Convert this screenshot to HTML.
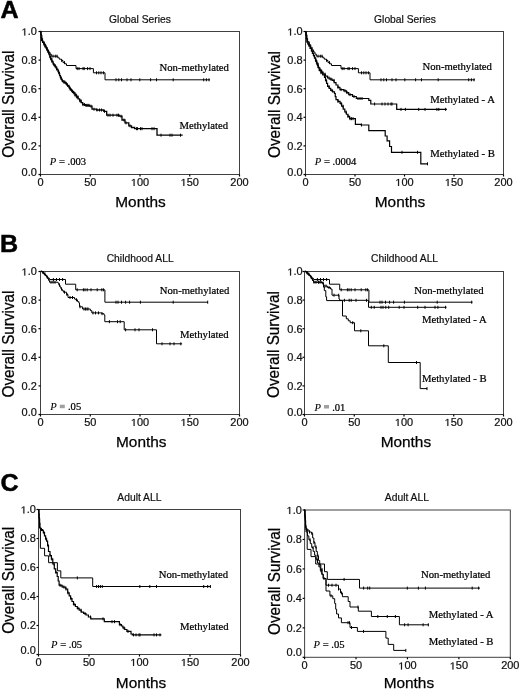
<!DOCTYPE html>
<html><head><meta charset="utf-8"><style>
html,body{margin:0;padding:0;background:#fff;}
svg{display:block;will-change:transform;}
</style></head><body>
<svg width="520" height="690" viewBox="0 0 520 690">
<rect width="520" height="690" fill="#fff"/>
<rect x="40.5" y="31.5" width="199.0" height="143.0" fill="none" stroke="#404040" stroke-width="1"/><line x1="38.5" y1="174.50" x2="40.5" y2="174.50" stroke="#000" stroke-width="1.2"/><g transform="translate(36.80,175.90) scale(1.1,1)" fill="#111" stroke="#111" stroke-width="0.2"><text x="-13.901" y="0" font-family='"Liberation Sans", sans-serif' font-size="10">0</text><text x="-8.340" y="0" font-family='"Liberation Sans", sans-serif' font-size="10">.</text><text x="-5.562" y="0" font-family='"Liberation Sans", sans-serif' font-size="10">0</text></g><line x1="38.5" y1="145.90" x2="40.5" y2="145.90" stroke="#000" stroke-width="1.2"/><g transform="translate(36.80,149.80) scale(1.1,1)" fill="#111" stroke="#111" stroke-width="0.2"><text x="-13.901" y="0" font-family='"Liberation Sans", sans-serif' font-size="10">0</text><text x="-8.340" y="0" font-family='"Liberation Sans", sans-serif' font-size="10">.</text><text x="-5.562" y="0" font-family='"Liberation Sans", sans-serif' font-size="10">2</text></g><line x1="38.5" y1="117.30" x2="40.5" y2="117.30" stroke="#000" stroke-width="1.2"/><g transform="translate(36.80,121.20) scale(1.1,1)" fill="#111" stroke="#111" stroke-width="0.2"><text x="-13.901" y="0" font-family='"Liberation Sans", sans-serif' font-size="10">0</text><text x="-8.340" y="0" font-family='"Liberation Sans", sans-serif' font-size="10">.</text><text x="-5.562" y="0" font-family='"Liberation Sans", sans-serif' font-size="10">4</text></g><line x1="38.5" y1="88.70" x2="40.5" y2="88.70" stroke="#000" stroke-width="1.2"/><g transform="translate(36.80,92.60) scale(1.1,1)" fill="#111" stroke="#111" stroke-width="0.2"><text x="-13.901" y="0" font-family='"Liberation Sans", sans-serif' font-size="10">0</text><text x="-8.340" y="0" font-family='"Liberation Sans", sans-serif' font-size="10">.</text><text x="-5.562" y="0" font-family='"Liberation Sans", sans-serif' font-size="10">6</text></g><line x1="38.5" y1="60.10" x2="40.5" y2="60.10" stroke="#000" stroke-width="1.2"/><g transform="translate(36.80,64.00) scale(1.1,1)" fill="#111" stroke="#111" stroke-width="0.2"><text x="-13.901" y="0" font-family='"Liberation Sans", sans-serif' font-size="10">0</text><text x="-8.340" y="0" font-family='"Liberation Sans", sans-serif' font-size="10">.</text><text x="-5.562" y="0" font-family='"Liberation Sans", sans-serif' font-size="10">8</text></g><line x1="38.5" y1="31.50" x2="40.5" y2="31.50" stroke="#000" stroke-width="1.2"/><g transform="translate(36.80,35.40) scale(1.1,1)" fill="#111" stroke="#111" stroke-width="0.2"><path transform="translate(-13.901,0) scale(0.004883,-0.004883)" stroke-width="40.96" d="M515,0L515,1237L197,1010L197,1180L530,1409L696,1409L696,0Z"/><text x="-8.340" y="0" font-family='"Liberation Sans", sans-serif' font-size="10">.</text><text x="-5.562" y="0" font-family='"Liberation Sans", sans-serif' font-size="10">0</text></g><line x1="40.50" y1="174.5" x2="40.50" y2="176.5" stroke="#000" stroke-width="1.2"/><g transform="translate(40.50,185.90) scale(1.1,1)" fill="#111" stroke="#111" stroke-width="0.2"><text x="-2.781" y="0" font-family='"Liberation Sans", sans-serif' font-size="10">0</text></g><line x1="90.25" y1="174.5" x2="90.25" y2="176.5" stroke="#000" stroke-width="1.2"/><g transform="translate(90.25,185.90) scale(1.1,1)" fill="#111" stroke="#111" stroke-width="0.2"><text x="-5.562" y="0" font-family='"Liberation Sans", sans-serif' font-size="10">5</text><text x="0.000" y="0" font-family='"Liberation Sans", sans-serif' font-size="10">0</text></g><line x1="140.00" y1="174.5" x2="140.00" y2="176.5" stroke="#000" stroke-width="1.2"/><g transform="translate(140.00,185.90) scale(1.1,1)" fill="#111" stroke="#111" stroke-width="0.2"><path transform="translate(-8.342,0) scale(0.004883,-0.004883)" stroke-width="40.96" d="M515,0L515,1237L197,1010L197,1180L530,1409L696,1409L696,0Z"/><text x="-2.781" y="0" font-family='"Liberation Sans", sans-serif' font-size="10">0</text><text x="2.781" y="0" font-family='"Liberation Sans", sans-serif' font-size="10">0</text></g><line x1="189.75" y1="174.5" x2="189.75" y2="176.5" stroke="#000" stroke-width="1.2"/><g transform="translate(189.75,185.90) scale(1.1,1)" fill="#111" stroke="#111" stroke-width="0.2"><path transform="translate(-8.342,0) scale(0.004883,-0.004883)" stroke-width="40.96" d="M515,0L515,1237L197,1010L197,1180L530,1409L696,1409L696,0Z"/><text x="-2.781" y="0" font-family='"Liberation Sans", sans-serif' font-size="10">5</text><text x="2.781" y="0" font-family='"Liberation Sans", sans-serif' font-size="10">0</text></g><line x1="239.50" y1="174.5" x2="239.50" y2="176.5" stroke="#000" stroke-width="1.2"/><g transform="translate(239.50,185.90) scale(1.1,1)" fill="#111" stroke="#111" stroke-width="0.2"><text x="-8.342" y="0" font-family='"Liberation Sans", sans-serif' font-size="10">2</text><text x="-2.781" y="0" font-family='"Liberation Sans", sans-serif' font-size="10">0</text><text x="2.781" y="0" font-family='"Liberation Sans", sans-serif' font-size="10">0</text></g><text x="140" y="23.1" font-family='"Liberation Sans", sans-serif' font-size="10.3" text-anchor="middle" fill="#111" stroke="#111" stroke-width="0.2">Global Series</text><text x="140.5" y="206.9" font-family='"Liberation Sans", sans-serif' font-size="15.4" text-anchor="middle" fill="#000" stroke="#000" stroke-width="0.25">Months</text><text transform="translate(8.3,104.2) rotate(-90) scale(1,1.06)" x="0" y="5.6" font-family='"Liberation Sans", sans-serif' font-size="15.3" text-anchor="middle" fill="#000" stroke="#000" stroke-width="0.25">Overall Survival</text><path d="M40.50,31.50H41.20V34.93H41.90V38.37H42.60V41.80H44.30V44.70H45.75V47.30H47.20V49.90H48.57V52.00H49.93V54.10H51.30V56.20H57.80V57.80H59.30V59.20H61.50V60.50H63.00V62.60H64.80V63.80H66.50V65.50H76.00V68.60H93.40V72.80H105.00V79.80H210.00" fill="none" stroke="#000" stroke-width="1.0"/><path d="M53.00,54.70V57.70M55.30,54.70V57.70M57.00,54.70V57.70M61.70,59.00V62.00M64.50,61.10V64.10M77.20,67.10V70.10M79.00,67.10V70.10M83.00,67.10V70.10M84.20,67.10V70.10M87.60,67.10V70.10M90.00,67.10V70.10M96.50,71.30V74.30M98.80,71.30V74.30M101.00,71.30V74.30M103.40,71.30V74.30M116.00,78.30V81.30M118.80,78.30V81.30M121.50,78.30V81.30M127.00,78.30V81.30M131.00,78.30V81.30M139.80,78.30V81.30M150.60,78.30V81.30M156.50,78.30V81.30M173.20,78.30V81.30M203.70,78.30V81.30M206.40,78.30V81.30M209.00,78.30V81.30" fill="none" stroke="#000" stroke-width="1"/><path d="M40.50,31.50H40.83V34.57H41.17V37.63H41.50V40.70H42.65V42.45H43.80V44.20H44.90V46.20H46.00V48.20H47.00V50.30H48.00V52.40H49.00V54.50H49.85V56.75H50.70V59.00H51.85V61.40H53.00V63.80H54.15V65.50H55.30V67.20H56.65V69.35H58.00V71.50H58.80V73.57H59.60V75.63H60.40V77.70H61.20V79.25H62.00V80.80H63.90V82.30H65.80V83.80H67.30V85.35H68.80V86.90H69.60V88.45H70.40V90.00H71.95V91.50H73.50V93.00H75.00V95.00H76.50V97.00H78.05V98.90H79.60V100.80H81.15V102.70H82.70V104.60H85.80V105.40H89.60V106.20H92.00V109.20H96.50V110.00H103.80V111.30H106.70V115.20H119.20V116.20H122.00V120.00H125.00V122.90H128.80V125.80H131.50V127.50H134.60V128.70H157.00V135.20H182.70" fill="none" stroke="#000" stroke-width="1.3"/><path d="M42.50,39.20V42.20M44.00,42.70V45.70M45.00,44.70V47.70M46.50,46.70V49.70M47.50,48.80V51.80M48.50,50.90V53.90M50.00,55.25V58.25M51.00,57.50V60.50M52.00,59.90V62.90M53.50,62.30V65.30M55.00,64.00V67.00M56.00,65.70V68.70M57.00,67.85V70.85M58.50,70.00V73.00M59.50,72.07V75.07M61.00,76.20V79.20M62.50,79.30V82.30M64.00,80.80V83.80M65.00,80.80V83.80M66.50,82.30V85.30M67.50,83.85V86.85M69.00,85.40V88.40M70.00,86.95V89.95M71.50,88.50V91.50M72.50,90.00V93.00M74.00,91.50V94.50M75.00,93.50V96.50M76.00,93.50V96.50M77.00,95.50V98.50M78.00,95.50V98.50M80.00,99.30V102.30M81.00,99.30V102.30M83.00,103.10V106.10M84.50,103.10V106.10M86.00,103.90V106.90M87.00,103.90V106.90M88.00,103.90V106.90M89.00,103.90V106.90M91.00,104.70V107.70M94.00,107.70V110.70M97.00,108.50V111.50M99.50,108.50V111.50M101.50,108.50V111.50M104.50,109.80V112.80M108.00,113.70V116.70M110.00,113.70V116.70M113.00,113.70V116.70M117.00,113.70V116.70M118.50,113.70V116.70M121.00,114.70V117.70M124.00,118.50V121.50M126.00,121.40V124.40M130.00,124.30V127.30M136.50,127.20V130.20M137.50,127.20V130.20M140.50,127.20V130.20M142.00,127.20V130.20M152.00,127.20V130.20M154.00,127.20V130.20M161.00,133.70V136.70M170.00,133.70V136.70M172.00,133.70V136.70M180.50,133.70V136.70" fill="none" stroke="#000" stroke-width="1"/><text x="159.5" y="70.6" font-family='"Liberation Serif", serif' font-size="10.7" fill="#000" stroke="#000" stroke-width="0.22">Non-methylated</text><text x="179.4" y="128.9" font-family='"Liberation Serif", serif' font-size="10.7" fill="#000" stroke="#000" stroke-width="0.22">Methylated</text><text x="49.8" y="165" font-family='"Liberation Serif", serif' font-size="10.6" fill="#000" stroke="#000" stroke-width="0.22"><tspan font-style="italic" stroke-width="0.08">P</tspan> = .003</text><text transform="translate(0.4,18.3) scale(1.02,1)" font-family='"Liberation Sans", sans-serif' font-size="24.6" font-weight="bold" fill="#000" stroke="#000" stroke-width="0.5">A</text><rect x="305.5" y="31.5" width="198.0" height="143.0" fill="none" stroke="#404040" stroke-width="1"/><line x1="303.5" y1="174.50" x2="305.5" y2="174.50" stroke="#000" stroke-width="1.2"/><g transform="translate(302.60,175.90) scale(1.1,1)" fill="#111" stroke="#111" stroke-width="0.2"><text x="-13.901" y="0" font-family='"Liberation Sans", sans-serif' font-size="10">0</text><text x="-8.340" y="0" font-family='"Liberation Sans", sans-serif' font-size="10">.</text><text x="-5.562" y="0" font-family='"Liberation Sans", sans-serif' font-size="10">0</text></g><line x1="303.5" y1="145.90" x2="305.5" y2="145.90" stroke="#000" stroke-width="1.2"/><g transform="translate(302.60,149.80) scale(1.1,1)" fill="#111" stroke="#111" stroke-width="0.2"><text x="-13.901" y="0" font-family='"Liberation Sans", sans-serif' font-size="10">0</text><text x="-8.340" y="0" font-family='"Liberation Sans", sans-serif' font-size="10">.</text><text x="-5.562" y="0" font-family='"Liberation Sans", sans-serif' font-size="10">2</text></g><line x1="303.5" y1="117.30" x2="305.5" y2="117.30" stroke="#000" stroke-width="1.2"/><g transform="translate(302.60,121.20) scale(1.1,1)" fill="#111" stroke="#111" stroke-width="0.2"><text x="-13.901" y="0" font-family='"Liberation Sans", sans-serif' font-size="10">0</text><text x="-8.340" y="0" font-family='"Liberation Sans", sans-serif' font-size="10">.</text><text x="-5.562" y="0" font-family='"Liberation Sans", sans-serif' font-size="10">4</text></g><line x1="303.5" y1="88.70" x2="305.5" y2="88.70" stroke="#000" stroke-width="1.2"/><g transform="translate(302.60,92.60) scale(1.1,1)" fill="#111" stroke="#111" stroke-width="0.2"><text x="-13.901" y="0" font-family='"Liberation Sans", sans-serif' font-size="10">0</text><text x="-8.340" y="0" font-family='"Liberation Sans", sans-serif' font-size="10">.</text><text x="-5.562" y="0" font-family='"Liberation Sans", sans-serif' font-size="10">6</text></g><line x1="303.5" y1="60.10" x2="305.5" y2="60.10" stroke="#000" stroke-width="1.2"/><g transform="translate(302.60,64.00) scale(1.1,1)" fill="#111" stroke="#111" stroke-width="0.2"><text x="-13.901" y="0" font-family='"Liberation Sans", sans-serif' font-size="10">0</text><text x="-8.340" y="0" font-family='"Liberation Sans", sans-serif' font-size="10">.</text><text x="-5.562" y="0" font-family='"Liberation Sans", sans-serif' font-size="10">8</text></g><line x1="303.5" y1="31.50" x2="305.5" y2="31.50" stroke="#000" stroke-width="1.2"/><g transform="translate(302.60,35.40) scale(1.1,1)" fill="#111" stroke="#111" stroke-width="0.2"><path transform="translate(-13.901,0) scale(0.004883,-0.004883)" stroke-width="40.96" d="M515,0L515,1237L197,1010L197,1180L530,1409L696,1409L696,0Z"/><text x="-8.340" y="0" font-family='"Liberation Sans", sans-serif' font-size="10">.</text><text x="-5.562" y="0" font-family='"Liberation Sans", sans-serif' font-size="10">0</text></g><line x1="305.50" y1="174.5" x2="305.50" y2="176.5" stroke="#000" stroke-width="1.2"/><g transform="translate(305.50,185.90) scale(1.1,1)" fill="#111" stroke="#111" stroke-width="0.2"><text x="-2.781" y="0" font-family='"Liberation Sans", sans-serif' font-size="10">0</text></g><line x1="355.00" y1="174.5" x2="355.00" y2="176.5" stroke="#000" stroke-width="1.2"/><g transform="translate(355.00,185.90) scale(1.1,1)" fill="#111" stroke="#111" stroke-width="0.2"><text x="-5.562" y="0" font-family='"Liberation Sans", sans-serif' font-size="10">5</text><text x="0.000" y="0" font-family='"Liberation Sans", sans-serif' font-size="10">0</text></g><line x1="404.50" y1="174.5" x2="404.50" y2="176.5" stroke="#000" stroke-width="1.2"/><g transform="translate(404.50,185.90) scale(1.1,1)" fill="#111" stroke="#111" stroke-width="0.2"><path transform="translate(-8.342,0) scale(0.004883,-0.004883)" stroke-width="40.96" d="M515,0L515,1237L197,1010L197,1180L530,1409L696,1409L696,0Z"/><text x="-2.781" y="0" font-family='"Liberation Sans", sans-serif' font-size="10">0</text><text x="2.781" y="0" font-family='"Liberation Sans", sans-serif' font-size="10">0</text></g><line x1="454.00" y1="174.5" x2="454.00" y2="176.5" stroke="#000" stroke-width="1.2"/><g transform="translate(454.00,185.90) scale(1.1,1)" fill="#111" stroke="#111" stroke-width="0.2"><path transform="translate(-8.342,0) scale(0.004883,-0.004883)" stroke-width="40.96" d="M515,0L515,1237L197,1010L197,1180L530,1409L696,1409L696,0Z"/><text x="-2.781" y="0" font-family='"Liberation Sans", sans-serif' font-size="10">5</text><text x="2.781" y="0" font-family='"Liberation Sans", sans-serif' font-size="10">0</text></g><line x1="503.50" y1="174.5" x2="503.50" y2="176.5" stroke="#000" stroke-width="1.2"/><g transform="translate(503.50,185.90) scale(1.1,1)" fill="#111" stroke="#111" stroke-width="0.2"><text x="-8.342" y="0" font-family='"Liberation Sans", sans-serif' font-size="10">2</text><text x="-2.781" y="0" font-family='"Liberation Sans", sans-serif' font-size="10">0</text><text x="2.781" y="0" font-family='"Liberation Sans", sans-serif' font-size="10">0</text></g><text x="405" y="23.1" font-family='"Liberation Sans", sans-serif' font-size="10.3" text-anchor="middle" fill="#111" stroke="#111" stroke-width="0.2">Global Series</text><text x="400" y="207" font-family='"Liberation Sans", sans-serif' font-size="15.4" text-anchor="middle" fill="#000" stroke="#000" stroke-width="0.25">Months</text><text transform="translate(274.3,104.5) rotate(-90) scale(1,1.06)" x="0" y="5.6" font-family='"Liberation Sans", sans-serif' font-size="15.3" text-anchor="middle" fill="#000" stroke="#000" stroke-width="0.25">Overall Survival</text><path d="M305.50,31.50H306.20V34.93H306.90V38.37H307.60V41.80H309.30V44.70H310.75V47.30H312.20V49.90H313.57V52.00H314.93V54.10H316.30V56.20H322.80V57.80H324.30V59.20H326.50V60.50H328.00V62.60H329.80V63.80H331.50V65.50H341.00V68.60H358.40V72.80H370.00V79.80H475.00" fill="none" stroke="#000" stroke-width="1.0"/><path d="M318.00,54.70V57.70M320.30,54.70V57.70M322.00,54.70V57.70M326.70,59.00V62.00M329.50,61.10V64.10M342.20,67.10V70.10M344.00,67.10V70.10M348.00,67.10V70.10M349.20,67.10V70.10M352.60,67.10V70.10M355.00,67.10V70.10M361.50,71.30V74.30M363.80,71.30V74.30M366.00,71.30V74.30M368.40,71.30V74.30M381.00,78.30V81.30M383.80,78.30V81.30M386.50,78.30V81.30M392.00,78.30V81.30M396.00,78.30V81.30M404.80,78.30V81.30M415.60,78.30V81.30M421.50,78.30V81.30M438.20,78.30V81.30M468.70,78.30V81.30M471.40,78.30V81.30M474.00,78.30V81.30" fill="none" stroke="#000" stroke-width="1"/><path d="M305.50,31.80H306.00V35.20H306.50V38.60H307.00V42.00H308.00V44.00H309.00V46.00H310.25V48.50H311.50V51.00H312.50V53.33H313.50V55.67H314.50V58.00H315.48V60.50H316.45V63.00H317.42V65.50H318.40V68.00H319.93V70.07H321.47V72.13H323.00V74.20H325.30V76.10H327.60V78.00H329.90V79.20H332.20V80.40H334.10V82.70H336.00V85.00H337.95V87.30H339.90V89.60H343.80V90.80H346.50V92.60H348.70V94.60H352.50V96.50H356.30V98.50H368.80V100.40H370.80V104.00H396.70V109.40H446.90" fill="none" stroke="#000" stroke-width="1.2"/><path d="M316.00,59.00V62.00M320.00,68.57V71.57M322.00,70.63V73.63M325.00,72.70V75.70M329.00,76.50V79.50M331.00,77.70V80.70M334.00,78.90V81.90M338.00,85.80V88.80M341.00,88.10V91.10M345.00,89.30V92.30M347.00,91.10V94.10M350.00,93.10V96.10M354.00,95.00V98.00M358.00,97.00V100.00M360.00,97.00V100.00M362.00,97.00V100.00M374.60,102.50V105.50M382.00,102.50V105.50M385.00,102.50V105.50M388.00,102.50V105.50M391.00,102.50V105.50M392.00,102.50V105.50M401.00,107.90V110.90M405.40,107.90V110.90M418.70,107.90V110.90M425.00,107.90V110.90M436.90,107.90V110.90M438.80,107.90V110.90M445.60,107.90V110.90" fill="none" stroke="#000" stroke-width="1"/><path d="M305.50,31.80H306.00V35.20H306.50V38.60H307.00V42.00H308.00V44.00H309.00V46.00H310.25V48.50H311.50V51.00H312.50V53.33H313.50V55.67H314.50V58.00H315.68V61.10H316.85V64.20H318.02V67.30H319.20V70.40H320.97V72.70H322.73V75.00H324.50V77.30H325.53V80.37H326.57V83.43H327.60V86.50H329.15V88.45H330.70V90.40H332.60V91.95H334.50V93.50H335.25V96.55H336.00V99.60H338.00V101.45H340.00V103.30H341.60V106.20H343.20V109.10H344.80V112.00H346.40V114.23H348.00V116.47H349.60V118.70H355.40V124.40H361.20V125.00H368.80V130.60H385.20V136.00H387.10V140.80H389.60V146.50H391.50V152.30H420.80V163.80H427.50" fill="none" stroke="#000" stroke-width="1.2"/><path d="M318.00,62.70V65.70M321.00,71.20V74.20M326.00,78.87V81.87M329.00,85.00V88.00M332.00,88.90V91.90M338.00,99.95V102.95M341.00,101.80V104.80M343.00,104.70V107.70M346.00,110.50V113.50M348.00,114.97V117.97M350.00,117.20V120.20M351.50,117.20V120.20M353.00,117.20V120.20M361.50,123.50V126.50M402.00,150.80V153.80M417.50,150.80V153.80M427.50,162.30V165.30" fill="none" stroke="#000" stroke-width="1"/><text x="422.5" y="70" font-family='"Liberation Serif", serif' font-size="10.7" fill="#000" stroke="#000" stroke-width="0.22">Non-methylated</text><text x="430.2" y="103.1" font-family='"Liberation Serif", serif' font-size="10.7" fill="#000" stroke="#000" stroke-width="0.22">Methylated - A</text><text x="430.2" y="157" font-family='"Liberation Serif", serif' font-size="10.7" fill="#000" stroke="#000" stroke-width="0.22">Methylated - B</text><text x="314.8" y="164.8" font-family='"Liberation Serif", serif' font-size="10.6" fill="#000" stroke="#000" stroke-width="0.22"><tspan font-style="italic" stroke-width="0.08">P</tspan> = .0004</text><rect x="40.5" y="271.5" width="199.0" height="143.0" fill="none" stroke="#404040" stroke-width="1"/><line x1="38.5" y1="414.50" x2="40.5" y2="414.50" stroke="#000" stroke-width="1.2"/><g transform="translate(36.80,415.90) scale(1.1,1)" fill="#111" stroke="#111" stroke-width="0.2"><text x="-13.901" y="0" font-family='"Liberation Sans", sans-serif' font-size="10">0</text><text x="-8.340" y="0" font-family='"Liberation Sans", sans-serif' font-size="10">.</text><text x="-5.562" y="0" font-family='"Liberation Sans", sans-serif' font-size="10">0</text></g><line x1="38.5" y1="385.90" x2="40.5" y2="385.90" stroke="#000" stroke-width="1.2"/><g transform="translate(36.80,389.80) scale(1.1,1)" fill="#111" stroke="#111" stroke-width="0.2"><text x="-13.901" y="0" font-family='"Liberation Sans", sans-serif' font-size="10">0</text><text x="-8.340" y="0" font-family='"Liberation Sans", sans-serif' font-size="10">.</text><text x="-5.562" y="0" font-family='"Liberation Sans", sans-serif' font-size="10">2</text></g><line x1="38.5" y1="357.30" x2="40.5" y2="357.30" stroke="#000" stroke-width="1.2"/><g transform="translate(36.80,361.20) scale(1.1,1)" fill="#111" stroke="#111" stroke-width="0.2"><text x="-13.901" y="0" font-family='"Liberation Sans", sans-serif' font-size="10">0</text><text x="-8.340" y="0" font-family='"Liberation Sans", sans-serif' font-size="10">.</text><text x="-5.562" y="0" font-family='"Liberation Sans", sans-serif' font-size="10">4</text></g><line x1="38.5" y1="328.70" x2="40.5" y2="328.70" stroke="#000" stroke-width="1.2"/><g transform="translate(36.80,332.60) scale(1.1,1)" fill="#111" stroke="#111" stroke-width="0.2"><text x="-13.901" y="0" font-family='"Liberation Sans", sans-serif' font-size="10">0</text><text x="-8.340" y="0" font-family='"Liberation Sans", sans-serif' font-size="10">.</text><text x="-5.562" y="0" font-family='"Liberation Sans", sans-serif' font-size="10">6</text></g><line x1="38.5" y1="300.10" x2="40.5" y2="300.10" stroke="#000" stroke-width="1.2"/><g transform="translate(36.80,304.00) scale(1.1,1)" fill="#111" stroke="#111" stroke-width="0.2"><text x="-13.901" y="0" font-family='"Liberation Sans", sans-serif' font-size="10">0</text><text x="-8.340" y="0" font-family='"Liberation Sans", sans-serif' font-size="10">.</text><text x="-5.562" y="0" font-family='"Liberation Sans", sans-serif' font-size="10">8</text></g><line x1="38.5" y1="271.50" x2="40.5" y2="271.50" stroke="#000" stroke-width="1.2"/><g transform="translate(36.80,275.40) scale(1.1,1)" fill="#111" stroke="#111" stroke-width="0.2"><path transform="translate(-13.901,0) scale(0.004883,-0.004883)" stroke-width="40.96" d="M515,0L515,1237L197,1010L197,1180L530,1409L696,1409L696,0Z"/><text x="-8.340" y="0" font-family='"Liberation Sans", sans-serif' font-size="10">.</text><text x="-5.562" y="0" font-family='"Liberation Sans", sans-serif' font-size="10">0</text></g><line x1="40.50" y1="414.5" x2="40.50" y2="416.5" stroke="#000" stroke-width="1.2"/><g transform="translate(40.50,425.90) scale(1.1,1)" fill="#111" stroke="#111" stroke-width="0.2"><text x="-2.781" y="0" font-family='"Liberation Sans", sans-serif' font-size="10">0</text></g><line x1="90.25" y1="414.5" x2="90.25" y2="416.5" stroke="#000" stroke-width="1.2"/><g transform="translate(90.25,425.90) scale(1.1,1)" fill="#111" stroke="#111" stroke-width="0.2"><text x="-5.562" y="0" font-family='"Liberation Sans", sans-serif' font-size="10">5</text><text x="0.000" y="0" font-family='"Liberation Sans", sans-serif' font-size="10">0</text></g><line x1="140.00" y1="414.5" x2="140.00" y2="416.5" stroke="#000" stroke-width="1.2"/><g transform="translate(140.00,425.90) scale(1.1,1)" fill="#111" stroke="#111" stroke-width="0.2"><path transform="translate(-8.342,0) scale(0.004883,-0.004883)" stroke-width="40.96" d="M515,0L515,1237L197,1010L197,1180L530,1409L696,1409L696,0Z"/><text x="-2.781" y="0" font-family='"Liberation Sans", sans-serif' font-size="10">0</text><text x="2.781" y="0" font-family='"Liberation Sans", sans-serif' font-size="10">0</text></g><line x1="189.75" y1="414.5" x2="189.75" y2="416.5" stroke="#000" stroke-width="1.2"/><g transform="translate(189.75,425.90) scale(1.1,1)" fill="#111" stroke="#111" stroke-width="0.2"><path transform="translate(-8.342,0) scale(0.004883,-0.004883)" stroke-width="40.96" d="M515,0L515,1237L197,1010L197,1180L530,1409L696,1409L696,0Z"/><text x="-2.781" y="0" font-family='"Liberation Sans", sans-serif' font-size="10">5</text><text x="2.781" y="0" font-family='"Liberation Sans", sans-serif' font-size="10">0</text></g><line x1="239.50" y1="414.5" x2="239.50" y2="416.5" stroke="#000" stroke-width="1.2"/><g transform="translate(239.50,425.90) scale(1.1,1)" fill="#111" stroke="#111" stroke-width="0.2"><text x="-8.342" y="0" font-family='"Liberation Sans", sans-serif' font-size="10">2</text><text x="-2.781" y="0" font-family='"Liberation Sans", sans-serif' font-size="10">0</text><text x="2.781" y="0" font-family='"Liberation Sans", sans-serif' font-size="10">0</text></g><text x="140.2" y="262.2" font-family='"Liberation Sans", sans-serif' font-size="10.3" text-anchor="middle" fill="#111" stroke="#111" stroke-width="0.2">Childhood ALL</text><text x="141.3" y="446.7" font-family='"Liberation Sans", sans-serif' font-size="15.4" text-anchor="middle" fill="#000" stroke="#000" stroke-width="0.25">Months</text><text transform="translate(8.3,344) rotate(-90) scale(1,1.06)" x="0" y="5.6" font-family='"Liberation Sans", sans-serif' font-size="15.3" text-anchor="middle" fill="#000" stroke="#000" stroke-width="0.25">Overall Survival</text><path d="M40.80,271.20H41.80V271.60H43.20V272.90H44.50V274.50H45.80V276.00H47.00V277.20H48.20V278.30H49.50V279.50H65.50V284.20H75.70V289.80H104.90V302.20H208.00" fill="none" stroke="#000" stroke-width="1.0"/><path d="M53.40,278.00V281.00M56.50,278.00V281.00M59.50,278.00V281.00M62.60,278.00V281.00M77.20,288.30V291.30M83.40,288.30V291.30M85.00,288.30V291.30M87.20,288.30V291.30M91.00,288.30V291.30M97.20,288.30V291.30M101.80,288.30V291.30M103.40,288.30V291.30M116.00,300.70V303.70M118.00,300.70V303.70M121.50,300.70V303.70M125.60,300.70V303.70M129.60,300.70V303.70M140.40,300.70V303.70M173.20,300.70V303.70M207.70,300.70V303.70" fill="none" stroke="#000" stroke-width="1"/><path d="M40.80,271.20H42.22V272.60H43.65V274.00H45.08V275.40H46.50V276.80H47.50V278.60H48.50V280.40H49.50V282.20H57.80V283.00H58.87V285.00H59.93V287.00H61.00V289.00H62.20V290.60H63.40V292.20H66.50V294.50H68.00V297.50H74.50V299.00H75.70V299.80H77.50V301.50H78.80V302.90H79.50V306.80H82.60V309.00H90.30V310.60H91.80V312.90H101.80V313.70H104.00V315.00H104.80V321.70H124.20V329.80H156.50V343.80H182.10" fill="none" stroke="#000" stroke-width="1.0"/><path d="M43.00,271.10V274.10M45.00,272.50V275.50M47.00,275.30V278.30M51.00,280.70V283.70M53.00,280.70V283.70M55.00,280.70V283.70M59.50,283.50V286.50M61.50,287.50V290.50M64.50,290.70V293.70M67.00,293.00V296.00M70.00,296.00V299.00M72.50,296.00V299.00M76.50,298.30V301.30M80.00,305.30V308.30M84.00,307.50V310.50M85.50,307.50V310.50M87.00,307.50V310.50M88.00,307.50V310.50M93.00,311.40V314.40M95.50,311.40V314.40M98.50,311.40V314.40M102.00,312.20V315.20M109.40,320.20V323.20M117.50,320.20V323.20M120.20,320.20V323.20M125.60,328.30V331.30M135.00,328.30V331.30M139.00,328.30V331.30M152.50,328.30V331.30M162.00,342.30V345.30M170.00,342.30V345.30M174.00,342.30V345.30M180.80,342.30V345.30" fill="none" stroke="#000" stroke-width="1"/><text x="159.8" y="293.5" font-family='"Liberation Serif", serif' font-size="10.7" fill="#000" stroke="#000" stroke-width="0.22">Non-methylated</text><text x="180" y="337.9" font-family='"Liberation Serif", serif' font-size="10.7" fill="#000" stroke="#000" stroke-width="0.22">Methylated</text><text x="50.2" y="410.2" font-family='"Liberation Serif", serif' font-size="10.6" fill="#000" stroke="#000" stroke-width="0.22"><tspan font-style="italic" stroke-width="0.08">P</tspan><tspan fill="#fff" fill-opacity="0" stroke-opacity="0"> = </tspan>.05</text><rect x="59.80" y="404.70" width="5" height="3.5" fill="#a0a0a0"/><text transform="translate(0,252.4) scale(1.02,1)" font-family='"Liberation Sans", sans-serif' font-size="24.6" font-weight="bold" fill="#000" stroke="#000" stroke-width="0.5">B</text><rect x="304.5" y="271.5" width="199.0" height="143.0" fill="none" stroke="#404040" stroke-width="1"/><line x1="302.5" y1="414.50" x2="304.5" y2="414.50" stroke="#000" stroke-width="1.2"/><g transform="translate(302.60,415.90) scale(1.1,1)" fill="#111" stroke="#111" stroke-width="0.2"><text x="-13.901" y="0" font-family='"Liberation Sans", sans-serif' font-size="10">0</text><text x="-8.340" y="0" font-family='"Liberation Sans", sans-serif' font-size="10">.</text><text x="-5.562" y="0" font-family='"Liberation Sans", sans-serif' font-size="10">0</text></g><line x1="302.5" y1="385.90" x2="304.5" y2="385.90" stroke="#000" stroke-width="1.2"/><g transform="translate(302.60,389.80) scale(1.1,1)" fill="#111" stroke="#111" stroke-width="0.2"><text x="-13.901" y="0" font-family='"Liberation Sans", sans-serif' font-size="10">0</text><text x="-8.340" y="0" font-family='"Liberation Sans", sans-serif' font-size="10">.</text><text x="-5.562" y="0" font-family='"Liberation Sans", sans-serif' font-size="10">2</text></g><line x1="302.5" y1="357.30" x2="304.5" y2="357.30" stroke="#000" stroke-width="1.2"/><g transform="translate(302.60,361.20) scale(1.1,1)" fill="#111" stroke="#111" stroke-width="0.2"><text x="-13.901" y="0" font-family='"Liberation Sans", sans-serif' font-size="10">0</text><text x="-8.340" y="0" font-family='"Liberation Sans", sans-serif' font-size="10">.</text><text x="-5.562" y="0" font-family='"Liberation Sans", sans-serif' font-size="10">4</text></g><line x1="302.5" y1="328.70" x2="304.5" y2="328.70" stroke="#000" stroke-width="1.2"/><g transform="translate(302.60,332.60) scale(1.1,1)" fill="#111" stroke="#111" stroke-width="0.2"><text x="-13.901" y="0" font-family='"Liberation Sans", sans-serif' font-size="10">0</text><text x="-8.340" y="0" font-family='"Liberation Sans", sans-serif' font-size="10">.</text><text x="-5.562" y="0" font-family='"Liberation Sans", sans-serif' font-size="10">6</text></g><line x1="302.5" y1="300.10" x2="304.5" y2="300.10" stroke="#000" stroke-width="1.2"/><g transform="translate(302.60,304.00) scale(1.1,1)" fill="#111" stroke="#111" stroke-width="0.2"><text x="-13.901" y="0" font-family='"Liberation Sans", sans-serif' font-size="10">0</text><text x="-8.340" y="0" font-family='"Liberation Sans", sans-serif' font-size="10">.</text><text x="-5.562" y="0" font-family='"Liberation Sans", sans-serif' font-size="10">8</text></g><line x1="302.5" y1="271.50" x2="304.5" y2="271.50" stroke="#000" stroke-width="1.2"/><g transform="translate(302.60,275.40) scale(1.1,1)" fill="#111" stroke="#111" stroke-width="0.2"><path transform="translate(-13.901,0) scale(0.004883,-0.004883)" stroke-width="40.96" d="M515,0L515,1237L197,1010L197,1180L530,1409L696,1409L696,0Z"/><text x="-8.340" y="0" font-family='"Liberation Sans", sans-serif' font-size="10">.</text><text x="-5.562" y="0" font-family='"Liberation Sans", sans-serif' font-size="10">0</text></g><line x1="304.50" y1="414.5" x2="304.50" y2="416.5" stroke="#000" stroke-width="1.2"/><g transform="translate(304.50,425.90) scale(1.1,1)" fill="#111" stroke="#111" stroke-width="0.2"><text x="-2.781" y="0" font-family='"Liberation Sans", sans-serif' font-size="10">0</text></g><line x1="354.25" y1="414.5" x2="354.25" y2="416.5" stroke="#000" stroke-width="1.2"/><g transform="translate(354.25,425.90) scale(1.1,1)" fill="#111" stroke="#111" stroke-width="0.2"><text x="-5.562" y="0" font-family='"Liberation Sans", sans-serif' font-size="10">5</text><text x="0.000" y="0" font-family='"Liberation Sans", sans-serif' font-size="10">0</text></g><line x1="404.00" y1="414.5" x2="404.00" y2="416.5" stroke="#000" stroke-width="1.2"/><g transform="translate(404.00,425.90) scale(1.1,1)" fill="#111" stroke="#111" stroke-width="0.2"><path transform="translate(-8.342,0) scale(0.004883,-0.004883)" stroke-width="40.96" d="M515,0L515,1237L197,1010L197,1180L530,1409L696,1409L696,0Z"/><text x="-2.781" y="0" font-family='"Liberation Sans", sans-serif' font-size="10">0</text><text x="2.781" y="0" font-family='"Liberation Sans", sans-serif' font-size="10">0</text></g><line x1="453.75" y1="414.5" x2="453.75" y2="416.5" stroke="#000" stroke-width="1.2"/><g transform="translate(453.75,425.90) scale(1.1,1)" fill="#111" stroke="#111" stroke-width="0.2"><path transform="translate(-8.342,0) scale(0.004883,-0.004883)" stroke-width="40.96" d="M515,0L515,1237L197,1010L197,1180L530,1409L696,1409L696,0Z"/><text x="-2.781" y="0" font-family='"Liberation Sans", sans-serif' font-size="10">5</text><text x="2.781" y="0" font-family='"Liberation Sans", sans-serif' font-size="10">0</text></g><line x1="503.50" y1="414.5" x2="503.50" y2="416.5" stroke="#000" stroke-width="1.2"/><g transform="translate(503.50,425.90) scale(1.1,1)" fill="#111" stroke="#111" stroke-width="0.2"><text x="-8.342" y="0" font-family='"Liberation Sans", sans-serif' font-size="10">2</text><text x="-2.781" y="0" font-family='"Liberation Sans", sans-serif' font-size="10">0</text><text x="2.781" y="0" font-family='"Liberation Sans", sans-serif' font-size="10">0</text></g><text x="404.6" y="262.2" font-family='"Liberation Sans", sans-serif' font-size="10.3" text-anchor="middle" fill="#111" stroke="#111" stroke-width="0.2">Childhood ALL</text><text x="405.9" y="447" font-family='"Liberation Sans", sans-serif' font-size="15.4" text-anchor="middle" fill="#000" stroke="#000" stroke-width="0.25">Months</text><text transform="translate(273.3,344.5) rotate(-90) scale(1,1.06)" x="0" y="5.6" font-family='"Liberation Sans", sans-serif' font-size="15.3" text-anchor="middle" fill="#000" stroke="#000" stroke-width="0.25">Overall Survival</text><path d="M304.80,271.20H305.80V271.60H307.20V272.90H308.50V274.50H309.80V276.00H311.00V277.20H312.20V278.30H313.50V279.50H329.50V284.20H339.70V289.80H368.90V302.20H472.50" fill="none" stroke="#000" stroke-width="1.0"/><path d="M317.40,278.00V281.00M320.50,278.00V281.00M323.50,278.00V281.00M326.60,278.00V281.00M341.20,288.30V291.30M347.40,288.30V291.30M349.00,288.30V291.30M351.20,288.30V291.30M355.00,288.30V291.30M361.20,288.30V291.30M365.80,288.30V291.30M367.40,288.30V291.30M380.00,300.70V303.70M382.00,300.70V303.70M385.50,300.70V303.70M389.60,300.70V303.70M393.60,300.70V303.70M404.40,300.70V303.70M437.20,300.70V303.70M471.70,300.70V303.70" fill="none" stroke="#000" stroke-width="1"/><path d="M304.80,271.40H306.23V272.80H307.65V274.20H309.07V275.60H310.50V277.00H311.50V278.73H312.50V280.47H313.50V282.20H322.00V283.00H323.50V286.00H327.40V287.50H330.50V289.00H332.00V295.20H339.00V299.00H339.70V300.30H368.50V307.30H446.50" fill="none" stroke="#000" stroke-width="1.0"/><path d="M307.00,271.30V274.30M309.00,272.70V275.70M311.00,275.50V278.50M314.00,280.70V283.70M316.00,280.70V283.70M318.50,280.70V283.70M321.00,280.70V283.70M324.00,284.50V287.50M326.00,284.50V287.50M329.00,286.00V289.00M334.00,293.70V296.70M338.70,293.70V296.70M344.40,298.80V301.80M349.20,298.80V301.80M351.20,298.80V301.80M356.00,298.80V301.80M366.50,298.80V301.80M371.30,305.80V308.80M374.20,305.80V308.80M381.00,305.80V308.80M383.00,305.80V308.80M385.80,305.80V308.80M388.70,305.80V308.80M399.20,305.80V308.80M404.00,305.80V308.80M417.70,305.80V308.80M425.00,305.80V308.80M435.00,305.80V308.80M437.90,305.80V308.80M445.60,305.80V308.80" fill="none" stroke="#000" stroke-width="1"/><path d="M304.80,271.40H306.23V272.80H307.65V274.20H309.07V275.60H310.50V277.00H311.50V278.73H312.50V280.47H313.50V282.20H322.00V283.00H323.50V287.00H324.30V290.60H325.80V296.80H326.60V300.60H342.50V316.00H346.30V318.80H348.30V320.80H350.20V322.70H354.50V330.80H368.50V345.80H388.30V362.50H420.20V388.60H427.00" fill="none" stroke="#000" stroke-width="1.0"/><path d="M319.00,280.70V283.70M323.00,281.50V284.50M352.70,321.20V324.20M360.80,329.30V332.30M383.80,344.30V347.30M416.50,361.00V364.00M427.00,387.10V390.10" fill="none" stroke="#000" stroke-width="1"/><text x="414.2" y="293.8" font-family='"Liberation Serif", serif' font-size="10.7" fill="#000" stroke="#000" stroke-width="0.22">Non-methylated</text><text x="421.9" y="323.3" font-family='"Liberation Serif", serif' font-size="10.7" fill="#000" stroke="#000" stroke-width="0.22">Methylated - A</text><text x="421.9" y="381.9" font-family='"Liberation Serif", serif' font-size="10.7" fill="#000" stroke="#000" stroke-width="0.22">Methylated - B</text><text x="314.4" y="410.5" font-family='"Liberation Serif", serif' font-size="10.6" fill="#000" stroke="#000" stroke-width="0.22"><tspan font-style="italic" stroke-width="0.08">P</tspan><tspan fill="#fff" fill-opacity="0" stroke-opacity="0"> = </tspan>.01</text><rect x="324.00" y="405.00" width="5" height="3.5" fill="#a0a0a0"/><rect x="38.5" y="509.5" width="202.0" height="145.0" fill="none" stroke="#404040" stroke-width="1"/><line x1="36.5" y1="654.50" x2="38.5" y2="654.50" stroke="#000" stroke-width="1.2"/><g transform="translate(35.90,654.40) scale(1.1,1)" fill="#111" stroke="#111" stroke-width="0.2"><text x="-13.901" y="0" font-family='"Liberation Sans", sans-serif' font-size="10">0</text><text x="-8.340" y="0" font-family='"Liberation Sans", sans-serif' font-size="10">.</text><text x="-5.562" y="0" font-family='"Liberation Sans", sans-serif' font-size="10">0</text></g><line x1="36.5" y1="625.50" x2="38.5" y2="625.50" stroke="#000" stroke-width="1.2"/><g transform="translate(35.90,629.40) scale(1.1,1)" fill="#111" stroke="#111" stroke-width="0.2"><text x="-13.901" y="0" font-family='"Liberation Sans", sans-serif' font-size="10">0</text><text x="-8.340" y="0" font-family='"Liberation Sans", sans-serif' font-size="10">.</text><text x="-5.562" y="0" font-family='"Liberation Sans", sans-serif' font-size="10">2</text></g><line x1="36.5" y1="596.50" x2="38.5" y2="596.50" stroke="#000" stroke-width="1.2"/><g transform="translate(35.90,600.40) scale(1.1,1)" fill="#111" stroke="#111" stroke-width="0.2"><text x="-13.901" y="0" font-family='"Liberation Sans", sans-serif' font-size="10">0</text><text x="-8.340" y="0" font-family='"Liberation Sans", sans-serif' font-size="10">.</text><text x="-5.562" y="0" font-family='"Liberation Sans", sans-serif' font-size="10">4</text></g><line x1="36.5" y1="567.50" x2="38.5" y2="567.50" stroke="#000" stroke-width="1.2"/><g transform="translate(35.90,571.40) scale(1.1,1)" fill="#111" stroke="#111" stroke-width="0.2"><text x="-13.901" y="0" font-family='"Liberation Sans", sans-serif' font-size="10">0</text><text x="-8.340" y="0" font-family='"Liberation Sans", sans-serif' font-size="10">.</text><text x="-5.562" y="0" font-family='"Liberation Sans", sans-serif' font-size="10">6</text></g><line x1="36.5" y1="538.50" x2="38.5" y2="538.50" stroke="#000" stroke-width="1.2"/><g transform="translate(35.90,542.40) scale(1.1,1)" fill="#111" stroke="#111" stroke-width="0.2"><text x="-13.901" y="0" font-family='"Liberation Sans", sans-serif' font-size="10">0</text><text x="-8.340" y="0" font-family='"Liberation Sans", sans-serif' font-size="10">.</text><text x="-5.562" y="0" font-family='"Liberation Sans", sans-serif' font-size="10">8</text></g><line x1="36.5" y1="509.50" x2="38.5" y2="509.50" stroke="#000" stroke-width="1.2"/><g transform="translate(35.90,513.40) scale(1.1,1)" fill="#111" stroke="#111" stroke-width="0.2"><path transform="translate(-13.901,0) scale(0.004883,-0.004883)" stroke-width="40.96" d="M515,0L515,1237L197,1010L197,1180L530,1409L696,1409L696,0Z"/><text x="-8.340" y="0" font-family='"Liberation Sans", sans-serif' font-size="10">.</text><text x="-5.562" y="0" font-family='"Liberation Sans", sans-serif' font-size="10">0</text></g><line x1="38.50" y1="654.5" x2="38.50" y2="656.5" stroke="#000" stroke-width="1.2"/><g transform="translate(38.50,665.90) scale(1.1,1)" fill="#111" stroke="#111" stroke-width="0.2"><text x="-2.781" y="0" font-family='"Liberation Sans", sans-serif' font-size="10">0</text></g><line x1="89.00" y1="654.5" x2="89.00" y2="656.5" stroke="#000" stroke-width="1.2"/><g transform="translate(89.00,665.90) scale(1.1,1)" fill="#111" stroke="#111" stroke-width="0.2"><text x="-5.562" y="0" font-family='"Liberation Sans", sans-serif' font-size="10">5</text><text x="0.000" y="0" font-family='"Liberation Sans", sans-serif' font-size="10">0</text></g><line x1="139.50" y1="654.5" x2="139.50" y2="656.5" stroke="#000" stroke-width="1.2"/><g transform="translate(139.50,665.90) scale(1.1,1)" fill="#111" stroke="#111" stroke-width="0.2"><path transform="translate(-8.342,0) scale(0.004883,-0.004883)" stroke-width="40.96" d="M515,0L515,1237L197,1010L197,1180L530,1409L696,1409L696,0Z"/><text x="-2.781" y="0" font-family='"Liberation Sans", sans-serif' font-size="10">0</text><text x="2.781" y="0" font-family='"Liberation Sans", sans-serif' font-size="10">0</text></g><line x1="190.00" y1="654.5" x2="190.00" y2="656.5" stroke="#000" stroke-width="1.2"/><g transform="translate(190.00,665.90) scale(1.1,1)" fill="#111" stroke="#111" stroke-width="0.2"><path transform="translate(-8.342,0) scale(0.004883,-0.004883)" stroke-width="40.96" d="M515,0L515,1237L197,1010L197,1180L530,1409L696,1409L696,0Z"/><text x="-2.781" y="0" font-family='"Liberation Sans", sans-serif' font-size="10">5</text><text x="2.781" y="0" font-family='"Liberation Sans", sans-serif' font-size="10">0</text></g><line x1="240.50" y1="654.5" x2="240.50" y2="656.5" stroke="#000" stroke-width="1.2"/><g transform="translate(240.50,665.90) scale(1.1,1)" fill="#111" stroke="#111" stroke-width="0.2"><text x="-8.342" y="0" font-family='"Liberation Sans", sans-serif' font-size="10">2</text><text x="-2.781" y="0" font-family='"Liberation Sans", sans-serif' font-size="10">0</text><text x="2.781" y="0" font-family='"Liberation Sans", sans-serif' font-size="10">0</text></g><text x="139.4" y="501.0" font-family='"Liberation Sans", sans-serif' font-size="10.3" text-anchor="middle" fill="#111" stroke="#111" stroke-width="0.2">Adult ALL</text><text x="141.1" y="688" font-family='"Liberation Sans", sans-serif' font-size="15.4" text-anchor="middle" fill="#000" stroke="#000" stroke-width="0.25">Months</text><text transform="translate(8.3,580.3) rotate(-90) scale(1,1.06)" x="0" y="5.6" font-family='"Liberation Sans", sans-serif' font-size="15.3" text-anchor="middle" fill="#000" stroke="#000" stroke-width="0.25">Overall Survival</text><path d="M38.50,509.50H39.00V518.00H39.50V528.00H40.40V548.30H44.60V555.80H48.60V562.70H57.40V570.80H60.80V577.90H92.70V586.50H210.40" fill="none" stroke="#000" stroke-width="1.0"/><path d="M77.30,576.40V579.40M96.60,585.00V588.00M98.50,585.00V588.00M100.40,585.00V588.00M102.30,585.00V588.00M139.80,585.00V588.00M149.80,585.00V588.00M156.50,585.00V588.00M203.70,585.00V588.00M207.70,585.00V588.00M210.40,585.00V588.00" fill="none" stroke="#000" stroke-width="1"/><path d="M38.50,509.50H38.88V514.12H39.25V518.75H39.62V523.38H40.00V528.00H40.80V529.60H42.50V530.40H43.30V532.70H44.50V535.80H45.60V538.80H46.60V541.20H47.60V545.50H48.50V551.50H50.00V555.50H51.40V559.20H52.80V564.00H54.30V568.80H55.70V572.50H57.20V576.50H58.20V581.00H59.10V585.20H61.00V586.00H62.90V587.10H65.80V589.00H67.70V592.90H69.20V595.80H70.60V598.70H72.00V601.50H73.50V604.40H75.40V606.50H77.30V608.30H79.20V610.20H81.20V612.10H83.60V613.50H86.00V615.00H88.40V617.00H90.80V618.80H104.30V621.70H119.40V624.60H121.50V626.00H122.90V627.90H124.70V629.50H126.90V631.40H131.00V634.00H132.30V634.90H161.40" fill="none" stroke="#000" stroke-width="1.2"/><path d="M41.50,528.10V531.10M44.00,531.20V534.20M46.00,537.30V540.30M48.00,544.00V547.00M50.00,554.00V557.00M52.00,557.70V560.70M54.00,562.50V565.50M56.00,571.00V574.00M60.00,583.70V586.70M62.00,584.50V587.50M64.00,585.60V588.60M66.00,587.50V590.50M68.00,591.40V594.40M71.00,597.20V600.20M74.00,602.90V605.90M78.00,606.80V609.80M81.00,608.70V611.70M85.00,612.00V615.00M90.50,615.50V618.50M103.00,617.30V620.30M112.00,620.20V623.20M114.50,620.20V623.20M120.00,623.10V626.10M124.00,626.40V629.40M128.00,629.90V632.90M133.50,633.40V636.40M136.00,633.40V636.40M139.00,633.40V636.40M140.00,633.40V636.40M154.00,633.40V636.40M156.50,633.40V636.40M160.00,633.40V636.40" fill="none" stroke="#000" stroke-width="1"/><text x="158.7" y="577.5" font-family='"Liberation Serif", serif' font-size="10.7" fill="#000" stroke="#000" stroke-width="0.22">Non-methylated</text><text x="180" y="629.5" font-family='"Liberation Serif", serif' font-size="10.7" fill="#000" stroke="#000" stroke-width="0.22">Methylated</text><text x="51" y="647.7" font-family='"Liberation Serif", serif' font-size="10.6" fill="#000" stroke="#000" stroke-width="0.22"><tspan font-style="italic" stroke-width="0.08">P</tspan> = .05</text><text transform="translate(0.5,491.4) scale(1.02,1)" font-family='"Liberation Sans", sans-serif' font-size="24.6" font-weight="bold" fill="#000" stroke="#000" stroke-width="0.5">C</text><rect x="304.6" y="510" width="205.7" height="147.29999999999995" fill="none" stroke="#404040" stroke-width="1"/><line x1="302.6" y1="657.30" x2="304.6" y2="657.30" stroke="#000" stroke-width="1.2"/><g transform="translate(301.80,655.60) scale(1.1,1)" fill="#111" stroke="#111" stroke-width="0.2"><text x="-13.901" y="0" font-family='"Liberation Sans", sans-serif' font-size="10">0</text><text x="-8.340" y="0" font-family='"Liberation Sans", sans-serif' font-size="10">.</text><text x="-5.562" y="0" font-family='"Liberation Sans", sans-serif' font-size="10">0</text></g><line x1="302.6" y1="627.84" x2="304.6" y2="627.84" stroke="#000" stroke-width="1.2"/><g transform="translate(301.80,631.74) scale(1.1,1)" fill="#111" stroke="#111" stroke-width="0.2"><text x="-13.901" y="0" font-family='"Liberation Sans", sans-serif' font-size="10">0</text><text x="-8.340" y="0" font-family='"Liberation Sans", sans-serif' font-size="10">.</text><text x="-5.562" y="0" font-family='"Liberation Sans", sans-serif' font-size="10">2</text></g><line x1="302.6" y1="598.38" x2="304.6" y2="598.38" stroke="#000" stroke-width="1.2"/><g transform="translate(301.80,602.28) scale(1.1,1)" fill="#111" stroke="#111" stroke-width="0.2"><text x="-13.901" y="0" font-family='"Liberation Sans", sans-serif' font-size="10">0</text><text x="-8.340" y="0" font-family='"Liberation Sans", sans-serif' font-size="10">.</text><text x="-5.562" y="0" font-family='"Liberation Sans", sans-serif' font-size="10">4</text></g><line x1="302.6" y1="568.92" x2="304.6" y2="568.92" stroke="#000" stroke-width="1.2"/><g transform="translate(301.80,572.82) scale(1.1,1)" fill="#111" stroke="#111" stroke-width="0.2"><text x="-13.901" y="0" font-family='"Liberation Sans", sans-serif' font-size="10">0</text><text x="-8.340" y="0" font-family='"Liberation Sans", sans-serif' font-size="10">.</text><text x="-5.562" y="0" font-family='"Liberation Sans", sans-serif' font-size="10">6</text></g><line x1="302.6" y1="539.46" x2="304.6" y2="539.46" stroke="#000" stroke-width="1.2"/><g transform="translate(301.80,543.36) scale(1.1,1)" fill="#111" stroke="#111" stroke-width="0.2"><text x="-13.901" y="0" font-family='"Liberation Sans", sans-serif' font-size="10">0</text><text x="-8.340" y="0" font-family='"Liberation Sans", sans-serif' font-size="10">.</text><text x="-5.562" y="0" font-family='"Liberation Sans", sans-serif' font-size="10">8</text></g><line x1="302.6" y1="510.00" x2="304.6" y2="510.00" stroke="#000" stroke-width="1.2"/><g transform="translate(301.80,513.90) scale(1.1,1)" fill="#111" stroke="#111" stroke-width="0.2"><path transform="translate(-13.901,0) scale(0.004883,-0.004883)" stroke-width="40.96" d="M515,0L515,1237L197,1010L197,1180L530,1409L696,1409L696,0Z"/><text x="-8.340" y="0" font-family='"Liberation Sans", sans-serif' font-size="10">.</text><text x="-5.562" y="0" font-family='"Liberation Sans", sans-serif' font-size="10">0</text></g><line x1="304.60" y1="657.3" x2="304.60" y2="659.3" stroke="#000" stroke-width="1.2"/><g transform="translate(304.60,669.40) scale(1.1,1)" fill="#111" stroke="#111" stroke-width="0.2"><text x="-2.781" y="0" font-family='"Liberation Sans", sans-serif' font-size="10">0</text></g><line x1="356.03" y1="657.3" x2="356.03" y2="659.3" stroke="#000" stroke-width="1.2"/><g transform="translate(356.03,669.40) scale(1.1,1)" fill="#111" stroke="#111" stroke-width="0.2"><text x="-5.562" y="0" font-family='"Liberation Sans", sans-serif' font-size="10">5</text><text x="0.000" y="0" font-family='"Liberation Sans", sans-serif' font-size="10">0</text></g><line x1="407.45" y1="657.3" x2="407.45" y2="659.3" stroke="#000" stroke-width="1.2"/><g transform="translate(407.45,669.40) scale(1.1,1)" fill="#111" stroke="#111" stroke-width="0.2"><path transform="translate(-8.342,0) scale(0.004883,-0.004883)" stroke-width="40.96" d="M515,0L515,1237L197,1010L197,1180L530,1409L696,1409L696,0Z"/><text x="-2.781" y="0" font-family='"Liberation Sans", sans-serif' font-size="10">0</text><text x="2.781" y="0" font-family='"Liberation Sans", sans-serif' font-size="10">0</text></g><line x1="458.88" y1="657.3" x2="458.88" y2="659.3" stroke="#000" stroke-width="1.2"/><g transform="translate(458.88,669.40) scale(1.1,1)" fill="#111" stroke="#111" stroke-width="0.2"><path transform="translate(-8.342,0) scale(0.004883,-0.004883)" stroke-width="40.96" d="M515,0L515,1237L197,1010L197,1180L530,1409L696,1409L696,0Z"/><text x="-2.781" y="0" font-family='"Liberation Sans", sans-serif' font-size="10">5</text><text x="2.781" y="0" font-family='"Liberation Sans", sans-serif' font-size="10">0</text></g><line x1="510.30" y1="657.3" x2="510.30" y2="659.3" stroke="#000" stroke-width="1.2"/><g transform="translate(510.30,669.40) scale(1.1,1)" fill="#111" stroke="#111" stroke-width="0.2"><text x="-8.342" y="0" font-family='"Liberation Sans", sans-serif' font-size="10">2</text><text x="-2.781" y="0" font-family='"Liberation Sans", sans-serif' font-size="10">0</text><text x="2.781" y="0" font-family='"Liberation Sans", sans-serif' font-size="10">0</text></g><text x="406.9" y="501.0" font-family='"Liberation Sans", sans-serif' font-size="10.3" text-anchor="middle" fill="#111" stroke="#111" stroke-width="0.2">Adult ALL</text><text x="408.9" y="688" font-family='"Liberation Sans", sans-serif' font-size="15.4" text-anchor="middle" fill="#000" stroke="#000" stroke-width="0.25">Months</text><text transform="translate(273.8,581.4) rotate(-90) scale(1,1.06)" x="0" y="5.6" font-family='"Liberation Sans", sans-serif' font-size="15.3" text-anchor="middle" fill="#000" stroke="#000" stroke-width="0.25">Overall Survival</text><path d="M304.50,509.80H305.00V518.00H305.50V528.00H306.60V529.20H307.20V549.40H311.00V556.60H315.70V564.00H324.50V571.70H327.30V579.40H359.50V588.10H480.00" fill="none" stroke="#000" stroke-width="1.0"/><path d="M344.10,577.90V580.90M363.60,586.60V589.60M367.70,586.60V589.60M369.70,586.60V589.60M407.30,586.60V589.60M418.40,586.60V589.60M425.40,586.60V589.60M472.20,586.60V589.60M478.60,586.60V589.60" fill="none" stroke="#000" stroke-width="1"/><path d="M304.50,509.80H304.88V514.85H305.25V519.90H305.62V524.95H306.00V530.00H309.00V532.00H311.50V533.50H312.67V538.00H313.84V542.50H315.01V547.00H316.18V551.50H317.35V556.00H318.52V560.50H319.69V565.00H320.86V569.50H322.03V574.00H323.20V578.50H326.00V585.20H338.50V589.00H340.50V592.90H342.40V596.70H348.20V601.50H350.00V607.00H358.30V611.20H371.40V616.50H399.40V624.80H428.80" fill="none" stroke="#000" stroke-width="1.0"/><path d="M307.00,528.50V531.50M309.50,530.50V533.50M312.00,532.00V535.00M314.00,541.00V544.00M316.00,545.50V548.50M318.00,554.50V557.50M320.00,563.50V566.50M322.00,568.00V571.00M324.00,577.00V580.00M328.50,583.70V586.70M332.00,583.70V586.70M336.00,583.70V586.70M338.50,587.50V590.50M341.50,591.40V594.40M358.00,605.50V608.50M377.80,615.00V618.00M387.30,615.00V618.00M395.40,615.00V618.00M404.60,623.30V626.30M408.10,623.30V626.30M423.10,623.30V626.30M428.30,623.30V626.30" fill="none" stroke="#000" stroke-width="1"/><path d="M304.50,509.80H304.88V515.35H305.25V520.90H305.62V526.45H306.00V532.00H307.43V535.88H308.87V539.75H310.30V543.62H311.73V547.50H313.17V551.38H314.60V555.25H316.03V559.12H317.47V563.00H318.90V566.88H320.33V570.75H321.77V574.62H323.20V578.50H326.00V591.00H329.90V595.80H332.80V598.70H334.70V603.50H335.70V609.20H336.60V614.00H338.50V617.90H341.40V622.70H350.00V627.50H357.40V631.40H385.90V638.10H388.20V644.40H393.70V650.40H405.80" fill="none" stroke="#000" stroke-width="1.0"/><path d="M310.00,538.25V541.25M313.00,546.00V549.00M317.00,557.62V560.62M321.00,569.25V572.25M331.00,594.30V597.30M348.00,621.20V624.20M349.50,621.20V624.20M351.50,626.00V629.00M363.50,629.90V632.90M405.80,648.90V651.90" fill="none" stroke="#000" stroke-width="1"/><text x="421" y="577.6" font-family='"Liberation Serif", serif' font-size="10.7" fill="#000" stroke="#000" stroke-width="0.22">Non-methylated</text><text x="428.8" y="618.4" font-family='"Liberation Serif", serif' font-size="10.7" fill="#000" stroke="#000" stroke-width="0.22">Methylated - A</text><text x="428.8" y="645.2" font-family='"Liberation Serif", serif' font-size="10.7" fill="#000" stroke="#000" stroke-width="0.22">Methylated - B</text><text x="313.5" y="648.1" font-family='"Liberation Serif", serif' font-size="10.6" fill="#000" stroke="#000" stroke-width="0.22"><tspan font-style="italic" stroke-width="0.08">P</tspan> = .05</text>
</svg>
</body></html>
